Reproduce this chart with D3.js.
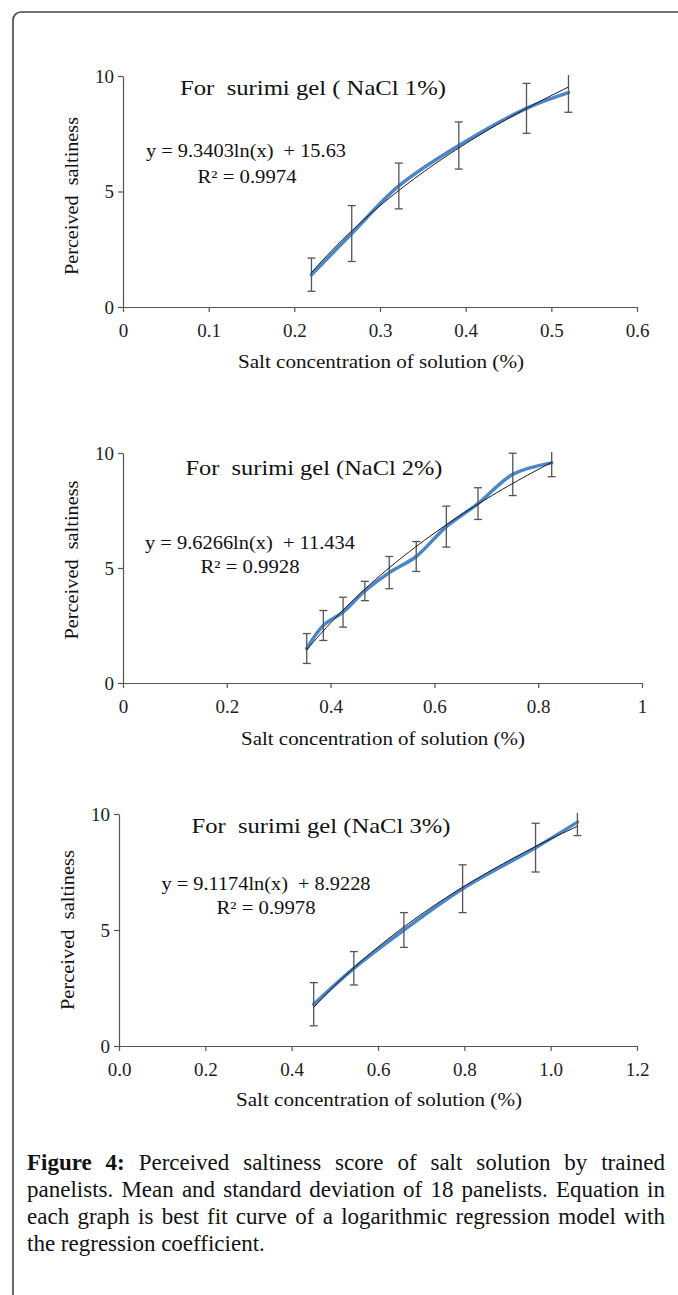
<!DOCTYPE html>
<html>
<head>
<meta charset="utf-8">
<script src="https://cdn.jsdelivr.net/npm/d3@7"></script>
<style>
body { margin: 0; background: #fff; }
svg { display: block; font-family: "Liberation Serif", "Times New Roman", serif; }
.pre { white-space: pre; }
</style>
</head>
<body>
<svg width="678" height="1295"></svg>
<script>
// Data: concentration (%), mean score, standard deviation
let conc1 = [0.22, 0.267, 0.322, 0.392, 0.471, 0.52];
let mean1 = [1.4, 3.18, 5.24, 6.99, 8.6, 9.28];
let sd1 = [0.72, 1.21, 0.99, 1.02, 1.08, 0.85];

let conc2 = [0.354, 0.386, 0.424, 0.466, 0.513, 0.565, 0.623, 0.684, 0.751, 0.826];
let mean2 = [1.5, 2.5, 3.08, 4.0, 4.8, 5.5, 6.8, 7.8, 9.07, 9.57];
let sd2 = [0.65, 0.65, 0.65, 0.42, 0.7, 0.65, 0.89, 0.69, 0.92, 0.6];

let conc3 = [0.451, 0.544, 0.66, 0.796, 0.965, 1.062];
let mean3 = [1.8, 3.35, 5.0, 6.78, 8.55, 9.65];
let sd3 = [0.93, 0.72, 0.75, 1.03, 1.05, 0.58];

// Logarithmic trendlines y = a ln(x) + b
let fit1 = [9.3403, 15.63];
let fit2 = [9.6266, 11.434];
let fit3 = [9.1174, 8.9228];

let titles = ["For  surimi gel ( NaCl 1%)", "For  surimi gel (NaCl 2%)", "For  surimi gel (NaCl 3%)"];
let equations = ["y = 9.3403ln(x)  + 15.63", "y = 9.6266ln(x)  + 11.434", "y = 9.1174ln(x)  + 8.9228"];
let rSquared = ["R\u00b2 = 0.9974", "R\u00b2 = 0.9928", "R\u00b2 = 0.9978"];

// Axis ticks
let xTicks1 = [0, 0.1, 0.2, 0.3, 0.4, 0.5, 0.6];
let xLabels1 = ["0", "0.1", "0.2", "0.3", "0.4", "0.5", "0.6"];
let xTicks2 = [0, 0.2, 0.4, 0.6, 0.8, 1];
let xLabels2 = ["0", "0.2", "0.4", "0.6", "0.8", "1"];
let xTicks3 = [0, 0.2, 0.4, 0.6, 0.8, 1.0, 1.2];
let xLabels3 = ["0.0", "0.2", "0.4", "0.6", "0.8", "1.0", "1.2"];
let yTicks = [0, 5, 10];
let yLabels = ["0", "5", "10"];

let xTitle = "Salt concentration of solution (%)";
let yTitle = "Perceived  saltiness";

let captionLines = [
    "Figure 4: Perceived saltiness score of salt solution by trained",
    "panelists. Mean and standard deviation of 18 panelists. Equation in",
    "each graph is best fit curve of a logarithmic regression model with",
    "the regression coefficient."
];

let svg = d3.select("svg");

// Panel layout (pixel boxes and text anchors)
let panels = [
    {conc: conc1, mean: mean1, sd: sd1, fit: fit1, xMax: 0.6, xTicks: xTicks1, xLabels: xLabels1,
     left: 123, right: 637, top: 76, bottom: 307,
     title: [313, 95, 266], eq: [246, 157, 200], r2: [247, 183, 99], xt: [381, 368, 286], yt: [72, 196, 158]},
    {conc: conc2, mean: mean2, sd: sd2, fit: fit2, xMax: 1, xTicks: xTicks2, xLabels: xLabels2,
     left: 123, right: 642, top: 453, bottom: 683,
     title: [314, 475, 257], eq: [250, 549, 210], r2: [250, 573, 99], xt: [383, 745, 284], yt: [72, 560, 159]},
    {conc: conc3, mean: mean3, sd: sd3, fit: fit3, xMax: 1.2, xTicks: xTicks3, xLabels: xLabels3,
     left: 119, right: 637, top: 814, bottom: 1046,
     title: [321, 833, 259], eq: [266, 890, 209], r2: [266, 914, 99], xt: [379, 1106, 286], yt: [68, 930, 160]}
];

// Outer frame, open to the right and bottom
let frame = d3.path();
frame.moveTo(700, 12);
frame.lineTo(21, 12);
frame.arcTo(13, 12, 13, 20, 8);
frame.lineTo(13, 1320);
svg.append("path")
    .attr("d", frame.toString())
    .attr("fill", "none")
    .attr("stroke", "#444")
    .attr("stroke-width", 1.6);

function fitText(sel, width) {
    sel.attr("textLength", width).attr("lengthAdjust", "spacingAndGlyphs");
}

panels.forEach(function(p, k) {

    let x = d3.scaleLinear().domain([0, p.xMax]).range([p.left, p.right]);
    let y = d3.scaleLinear().domain([0, 10]).range([p.bottom, p.top]);

    let clipId = "clip" + k;
    svg.append("clipPath").attr("id", clipId)
        .append("rect")
        .attr("x", p.left - 10).attr("y", p.top - 1)
        .attr("width", p.right - p.left + 20).attr("height", p.bottom - p.top + 1);

    // Axes
    let xAxis = svg.append("g")
        .attr("transform", "translate(0," + p.bottom + ")")
        .call(d3.axisBottom(x)
            .tickValues(p.xTicks)
            .tickFormat(function(d, i) { return p.xLabels[i]; })
            .tickSize(5).tickSizeOuter(0).tickPadding(12));

    let yAxis = svg.append("g")
        .attr("transform", "translate(" + p.left + ",0)")
        .call(d3.axisLeft(y)
            .tickValues(yTicks)
            .tickFormat(function(d, i) { return yLabels[i]; })
            .tickSize(5).tickSizeOuter(0).tickPadding(4));

    [xAxis, yAxis].forEach(function(a) {
        a.attr("font-family", null).attr("font-size", 19);
        a.selectAll("path, line").attr("stroke", "#555").attr("stroke-width", 1.2);
        a.selectAll("text").attr("fill", "#222");
    });

    let plot = svg.append("g").attr("clip-path", "url(#" + clipId + ")");
    let pts = p.conc.map(function(c, i) { return {x: c, y: p.mean[i], sd: p.sd[i]}; });

    // Smoothed series line
    plot.append("path")
        .datum(pts)
        .attr("fill", "none")
        .attr("stroke", "#4a86c8")
        .attr("stroke-width", 3.5)
        .attr("stroke-linecap", "round")
        .attr("d", d3.line()
            .x(function(d) { return x(d.x); })
            .y(function(d) { return y(d.y); })
            .curve(d3.curveCatmullRom.alpha(0.5)));

    // Error bars
    let bars = plot.selectAll("g.err")
        .data(pts)
        .enter().append("g")
        .attr("class", "err")
        .attr("stroke", "#555")
        .attr("stroke-width", 1.3);

    bars.append("line")
        .attr("x1", function(d) { return x(d.x); })
        .attr("x2", function(d) { return x(d.x); })
        .attr("y1", function(d) { return y(d.y - d.sd); })
        .attr("y2", function(d) { return y(d.y + d.sd); });

    [-1, 1].forEach(function(s) {
        bars.append("line")
            .attr("x1", function(d) { return x(d.x) - 4; })
            .attr("x2", function(d) { return x(d.x) + 4; })
            .attr("y1", function(d) { return y(d.y + s * d.sd); })
            .attr("y2", function(d) { return y(d.y + s * d.sd); });
    });

    // Log trendline from the printed coefficients
    let x0 = p.conc[0], x1 = p.conc[p.conc.length - 1];
    let trend = d3.range(0, 51).map(function(j) {
        let c = x0 + (x1 - x0) * j / 50;
        return [c, p.fit[0] * Math.log(c) + p.fit[1]];
    });
    plot.append("path")
        .datum(trend)
        .attr("fill", "none")
        .attr("stroke", "#1a1a1a")
        .attr("stroke-width", 1)
        .attr("d", d3.line()
            .x(function(d) { return x(d[0]); })
            .y(function(d) { return y(d[1]); }));

    // Texts
    fitText(svg.append("text")
        .attr("class", "pre")
        .attr("x", p.title[0]).attr("y", p.title[1])
        .attr("text-anchor", "middle")
        .attr("font-size", 22)
        .attr("fill", "#111")
        .text(titles[k]), p.title[2]);

    fitText(svg.append("text")
        .attr("class", "pre")
        .attr("x", p.eq[0]).attr("y", p.eq[1])
        .attr("text-anchor", "middle")
        .attr("font-size", 18)
        .attr("fill", "#111")
        .text(equations[k]), p.eq[2]);

    fitText(svg.append("text")
        .attr("x", p.r2[0]).attr("y", p.r2[1])
        .attr("text-anchor", "middle")
        .attr("font-size", 18)
        .attr("fill", "#111")
        .text(rSquared[k]), p.r2[2]);

    fitText(svg.append("text")
        .attr("x", p.xt[0]).attr("y", p.xt[1])
        .attr("text-anchor", "middle")
        .attr("font-size", 18.5)
        .attr("fill", "#111")
        .text(xTitle), p.xt[2]);

    fitText(svg.append("text")
        .attr("class", "pre")
        .attr("transform", "translate(" + p.yt[0] + "," + p.yt[1] + ") rotate(-90)")
        .attr("dy", "0.33em")
        .attr("text-anchor", "middle")
        .attr("font-size", 19)
        .attr("fill", "#111")
        .text(yTitle), p.yt[2]);
});

// Caption, justified between two margins
let capLeft = 27, capRight = 665, capTop = 1170, capLead = 27;

captionLines.forEach(function(line, i) {
    let words = line.split(" ");
    let nodes = words.map(function(w, j) {
        return svg.append("text")
            .attr("y", capTop + i * capLead)
            .attr("font-size", 23)
            .attr("font-weight", (i === 0 && j < 2) ? "bold" : null)
            .attr("fill", "#111")
            .text(w);
    });
    let widths = nodes.map(function(n) { return n.node().getComputedTextLength(); });
    let total = d3.sum(widths);
    let last = i === captionLines.length - 1;
    let gap = last ? 5.75 : (capRight - capLeft - total) / (words.length - 1);
    let pos = capLeft;
    nodes.forEach(function(n, j) {
        n.attr("x", pos);
        pos += widths[j] + gap;
    });
});
</script>
</body>
</html>
